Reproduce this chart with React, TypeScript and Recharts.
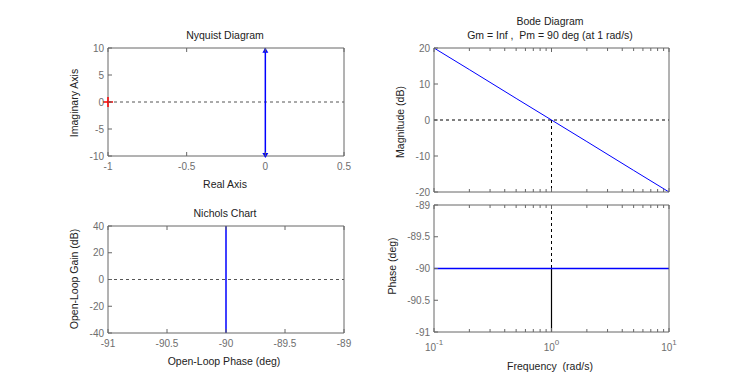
import React from 'react'
import { LineChart, Line, XAxis, YAxis, ReferenceLine, Scatter } from 'recharts'

// Nyquist: G(s) = 1/s
const nyqReal = [0, 0]
const nyqImag = [-10, 10]
const nyqArrows = [{ re: 0, im: 9.5, dir: 'up' }, { re: 0, im: -9.8, dir: 'down' }]
const criticalPoint = [{ re: -1, im: 0 }]
const nyqXTicks = [-1, -0.5, 0, 0.5]
const nyqYTicks = [-10, -5, 0, 5, 10]

// Nichols
const nicPhase = [-90, -90]
const nicGain = [40, -40]
const nicXTicks = [-91, -90.5, -90, -89.5, -89]
const nicYTicks = [-40, -20, 0, 20, 40]

// Bode
const freq = [0.1, 0.2, 0.5, 1, 2, 5, 10]
const magDb = [20, 14, 6, 0, -6, -14, -20]
const phaseDeg = [-90, -90, -90, -90, -90, -90, -90]
const freqTicks = [0.1, 0.2, 0.3, 0.4, 0.5, 0.6, 0.7, 0.8, 0.9, 1, 2, 3, 4, 5, 6, 7, 8, 9, 10]
const decadeLabels: Record<string, string> = { '0.1': '-1', '1': '0', '10': '1' }
const magTicks = [-20, -10, 0, 10, 20]
const phaseTicks = [-91, -90.5, -90, -89.5, -89]

const nyqData = nyqReal.map((re, i) => ({ re, im: nyqImag[i] }))
const nicData = nicPhase.map((ph, i) => ({ ph, g: nicGain[i] }))
const bodeData = freq.map((w, i) => ({ w, mag: magDb[i], ph: phaseDeg[i] }))

const AX = '#666'
const TXT = '#6e6e6e'
const FONT = '"Liberation Sans", Arial, sans-serif'

function Tick(props: any) {
  const { x, y, payload, side, log, bare } = props
  const v = payload.value
  const minor = log && !(String(v) in decadeLabels)
  const len = minor ? 3 : 4
  let line = null
  let label = null
  if (side === 'bottom') {
    line = <line x1={x} y1={y} x2={x} y2={y - len} stroke={AX} />
    if (bare) {
      label = null
    } else if (log) {
      if (!minor) {
        label = (
          <text x={x} y={y + 19} textAnchor="middle" fill={TXT} fontSize={10} fontFamily={FONT}>
            10<tspan dy={-6} fontSize={8}>{decadeLabels[String(v)]}</tspan>
          </text>
        )
      }
    } else {
      label = <text x={x} y={y + 14} textAnchor="middle" fill={TXT} fontSize={10} fontFamily={FONT}>{v}</text>
    }
  } else if (side === 'top') {
    line = <line x1={x} y1={y} x2={x} y2={y + len} stroke={AX} />
  } else if (side === 'left') {
    line = <line x1={x} y1={y} x2={x + 4} y2={y} stroke={AX} />
    label = <text x={x - 4} y={y + 3.5} textAnchor="end" fill={TXT} fontSize={10} fontFamily={FONT}>{v}</text>
  } else {
    line = <line x1={x} y1={y} x2={x - 4} y2={y} stroke={AX} />
  }
  return <g>{line}{label}</g>
}

function Arrow(props: any) {
  const { cx, cy, payload } = props
  const d = payload.dir === 'up' ? -1 : 1
  return <path d={`M${cx - 3},${cy - d * 2} L${cx + 3},${cy - d * 2} L${cx},${cy + d * 3} Z`} fill="#0000ff" />
}

function Cross(props: any) {
  const { cx, cy } = props
  return (
    <g stroke="#ff0000" strokeWidth={1.5}>
      <line x1={cx - 5} y1={cy} x2={cx + 5} y2={cy} />
      <line x1={cx} y1={cy - 5} x2={cx} y2={cy + 5} />
    </g>
  )
}

// axes need a non-zero size to be drawn; each takes 1px of the margin
function Axes({ xKey, xDomain, xTicks, yDomain, yTicks, log, bare }: any) {
  const common = { type: 'number' as const, dataKey: xKey, domain: xDomain, ticks: xTicks, tickSize: 0, tickMargin: 0, tickLine: false, axisLine: { stroke: AX }, interval: 0 as const, scale: log ? ('log' as const) : ('auto' as const), height: 1 }
  const ycommon = { type: 'number' as const, domain: yDomain, ticks: yTicks, tickSize: 0, tickMargin: 0, tickLine: false, axisLine: { stroke: AX }, interval: 0 as const, width: 1 }
  return [
    <XAxis key="b" xAxisId="b" orientation="bottom" {...common} tick={(p: any) => <Tick {...p} side="bottom" log={log} bare={bare} />} />,
    <XAxis key="t" xAxisId="t" orientation="top" {...common} tick={(p: any) => <Tick {...p} side="top" log={log} />} />,
    <YAxis key="l" yAxisId="l" orientation="left" {...ycommon} tick={(p: any) => <Tick {...p} side="left" />} />,
    <YAxis key="r" yAxisId="r" orientation="right" {...ycommon} tick={(p: any) => <Tick {...p} side="right" />} />,
  ]
}

const txt = (s: string, x: number, y: number, extra: any = {}) => (
  <div style={{ position: 'absolute', left: x, top: y, transform: 'translate(-50%, -50%)' + (extra.rot ? ' rotate(-90deg)' : ''), whiteSpace: 'pre', fontSize: 10.5, fontFamily: FONT, color: '#222' }}>{s}</div>
)

const svgStyle = { overflow: 'visible' }

export default function App() {
  return (
    <div style={{ position: 'absolute', left: 0, top: 0, width: 740, height: 375, background: '#fff', overflow: 'hidden' }}>
      <div style={{ position: 'absolute', left: 0, top: 0 }}>
        <LineChart width={370} height={200} data={nyqData} style={svgStyle} margin={{ top: 47, left: 107, right: 25, bottom: 43 }}>
          {Axes({ xKey: 're', xDomain: [-1, 0.5], xTicks: nyqXTicks, yDomain: [-10, 10], yTicks: nyqYTicks })}
          <ReferenceLine xAxisId="b" yAxisId="l" y={0} stroke="#555" strokeDasharray="3 3" />
          <Line xAxisId="b" yAxisId="l" dataKey="im" stroke="#0000ff" strokeWidth={1.5} dot={false} isAnimationActive={false} />
          <Scatter xAxisId="b" yAxisId="l" data={nyqArrows} dataKey="im" shape={Arrow} isAnimationActive={false} />
          <Scatter xAxisId="b" yAxisId="l" data={criticalPoint} dataKey="im" shape={Cross} isAnimationActive={false} />
        </LineChart>
      </div>
      <div style={{ position: 'absolute', left: 0, top: 200 }}>
        <LineChart width={370} height={175} data={nicData} style={svgStyle} margin={{ top: 25, left: 107, right: 25, bottom: 41 }}>
          {Axes({ xKey: 'ph', xDomain: [-91, -89], xTicks: nicXTicks, yDomain: [-40, 40], yTicks: nicYTicks })}
          <ReferenceLine xAxisId="b" yAxisId="l" y={0} stroke="#555" strokeDasharray="3 3" />
          <Line xAxisId="b" yAxisId="l" dataKey="g" stroke="#0000ff" strokeWidth={1.5} dot={false} isAnimationActive={false} />
        </LineChart>
      </div>
      <div style={{ position: 'absolute', left: 370, top: 0 }}>
        <LineChart width={370} height={200} data={bodeData} style={svgStyle} margin={{ top: 47, left: 63, right: 70, bottom: 7 }}>
          {Axes({ xKey: 'w', xDomain: [0.1, 10], xTicks: freqTicks, yDomain: [-20, 20], yTicks: magTicks, log: true, bare: true })}
          <ReferenceLine xAxisId="b" yAxisId="l" y={0} stroke="#000" strokeDasharray="3 3" />
          <ReferenceLine xAxisId="b" yAxisId="l" segment={[{ x: 1, y: 0 }, { x: 1, y: -20 }]} stroke="#000" strokeDasharray="3 3" />
          <Line xAxisId="b" yAxisId="l" dataKey="mag" stroke="#0000ff" strokeWidth={1} dot={false} isAnimationActive={false} />
        </LineChart>
      </div>
      <div style={{ position: 'absolute', left: 370, top: 192 }}>
        <LineChart width={370} height={183} data={bodeData} style={svgStyle} margin={{ top: 12, left: 63, right: 70, bottom: 42 }}>
          {Axes({ xKey: 'w', xDomain: [0.1, 10], xTicks: freqTicks, yDomain: [-91, -89], yTicks: phaseTicks, log: true })}
          <ReferenceLine xAxisId="b" yAxisId="l" segment={[{ x: 1, y: -89 }, { x: 1, y: -90 }]} stroke="#000" strokeDasharray="3 3" />
          <ReferenceLine xAxisId="b" yAxisId="l" segment={[{ x: 1, y: -90 }, { x: 1, y: -91 }]} stroke="#000" strokeWidth={1.2} />
          <Line xAxisId="b" yAxisId="l" dataKey="ph" stroke="#0000ff" strokeWidth={1.5} dot={false} isAnimationActive={false} />
        </LineChart>
      </div>
      {txt('Nyquist Diagram', 225, 35)}
      {txt('Real Axis', 225, 184)}
      {txt('Imaginary Axis', 74, 103, { rot: true })}
      {txt('Nichols Chart', 225, 213)}
      {txt('Open-Loop Phase (deg)', 224, 361)}
      {txt('Open-Loop Gain (dB)', 74, 279, { rot: true })}
      {txt('Bode Diagram', 550, 21)}
      {txt('Gm = Inf ,  Pm = 90 deg (at 1 rad/s)', 550, 35)}
      {txt('Magnitude (dB)', 400, 122, { rot: true })}
      {txt('Phase (deg)', 392, 266, { rot: true })}
      {txt('Frequency  (rad/s)', 550, 366)}
    </div>
  )
}
